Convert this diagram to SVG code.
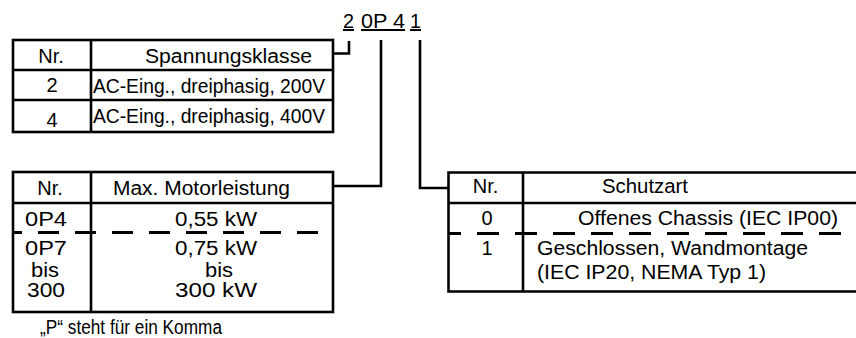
<svg xmlns="http://www.w3.org/2000/svg" width="856" height="338" viewBox="0 0 856 338">
<style>
.t{font-family:"Liberation Sans",Arial,sans-serif;font-size:20px;fill:#000}
.m{text-anchor:middle}
.u{text-decoration:underline}
.b{fill:none;stroke:#000;stroke-width:2.6}
.d{fill:none;stroke:#000;stroke-width:3}
.c{fill:none;stroke:#000;stroke-width:2.6}
</style>
<rect width="856" height="338" fill="#fff"/>
<g id="code">
<text class="t u" x="343" y="28" textLength="11" lengthAdjust="spacingAndGlyphs">2</text>
<text class="t u" x="361" y="28" textLength="44" lengthAdjust="spacingAndGlyphs">0P 4</text>
<text class="t u" x="410" y="28" textLength="11" lengthAdjust="spacingAndGlyphs">1</text>
</g>
<g id="table-voltage">
<rect class="b" x="13" y="40" width="320" height="92"/>
<path class="b" d="M91 40V132M13 70H333M13 100H333"/>
<text class="t m" x="51" y="63">Nr.</text>
<text class="t" x="145" y="63" textLength="167" lengthAdjust="spacingAndGlyphs">Spannungsklasse</text>
<text class="t m" x="52" y="92">2</text>
<text class="t" x="93" y="93" textLength="232" lengthAdjust="spacingAndGlyphs">AC-Eing., dreiphasig, 200V</text>
<text class="t m" x="52" y="127">4</text>
<text class="t" x="93" y="123" textLength="232" lengthAdjust="spacingAndGlyphs">AC-Eing., dreiphasig, 400V</text>
</g>
<g id="table-power">
<rect class="b" x="13" y="172" width="320" height="140"/>
<path class="b" d="M91 172V312M13 203H333"/>
<path class="d" d="M13 232.5H333" stroke-dasharray="21 16" stroke-dashoffset="12"/>
<text class="t m" x="50" y="195">Nr.</text>
<text class="t" x="113" y="195" textLength="177" lengthAdjust="spacingAndGlyphs">Max. Motorleistung</text>
<text class="t" x="25" y="226" textLength="42" lengthAdjust="spacingAndGlyphs">0P4</text>
<text class="t" x="175" y="226" textLength="82" lengthAdjust="spacingAndGlyphs">0,55 kW</text>
<text class="t" x="25" y="255" textLength="42" lengthAdjust="spacingAndGlyphs">0P7</text>
<text class="t" x="175" y="255" textLength="82" lengthAdjust="spacingAndGlyphs">0,75 kW</text>
<text class="t" x="31" y="277" textLength="28" lengthAdjust="spacingAndGlyphs">bis</text>
<text class="t" x="205" y="277" textLength="28" lengthAdjust="spacingAndGlyphs">bis</text>
<text class="t" x="27" y="297" textLength="38" lengthAdjust="spacingAndGlyphs">300</text>
<text class="t" x="175" y="297" textLength="82" lengthAdjust="spacingAndGlyphs">300 kW</text>
</g>
<g id="table-protection">
<path class="b" d="M856 172.5H448.5V291.5H856M523 172.5V291.5M448.5 203H856"/>
<path class="d" d="M448.5 233.5H842" stroke-dasharray="22 16" stroke-dashoffset="9.5"/>
<text class="t m" x="485.5" y="193">Nr.</text>
<text class="t" x="602" y="193" textLength="86" lengthAdjust="spacingAndGlyphs">Schutzart</text>
<text class="t m" x="487" y="225">0</text>
<text class="t" x="578" y="225" textLength="260" lengthAdjust="spacingAndGlyphs">Offenes Chassis (IEC IP00)</text>
<text class="t m" x="487" y="255">1</text>
<text class="t" x="537" y="255" textLength="271" lengthAdjust="spacingAndGlyphs">Geschlossen, Wandmontage</text>
<text class="t" x="537" y="279" textLength="229" lengthAdjust="spacingAndGlyphs">(IEC IP20, NEMA Typ 1)</text>
</g>
<g id="footnote">
<text class="t" x="40" y="334" textLength="182" lengthAdjust="spacingAndGlyphs">„P“ steht für ein Komma</text>
</g>
<g id="connectors">
<path class="c" d="M333 53.5H349V41"/>
<path class="c" d="M381 40V186H333"/>
<path class="c" d="M420 40V188H448.5"/>
</g>
</svg>
